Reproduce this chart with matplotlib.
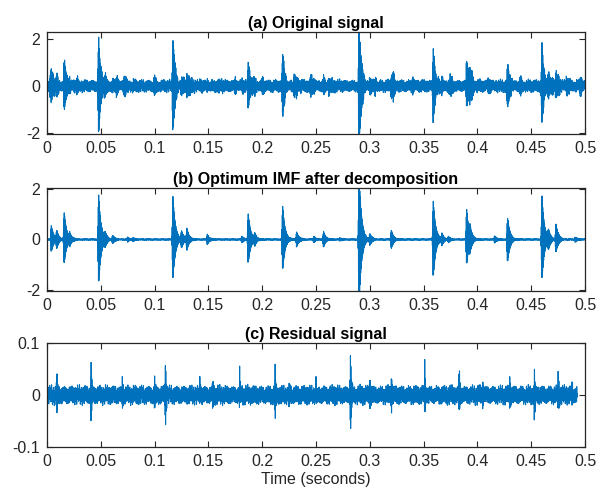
import matplotlib
matplotlib.use('Agg')
import matplotlib.pyplot as plt
import numpy as np

plt.rcParams['font.family'] = ['Liberation Sans', 'DejaVu Sans']

# sampling of the record
fs = 24000
t_end = 0.5
t_end_res = 0.4926

# impulses: time (s), positive peak, negative peak
imf_times = [0.004, 0.009, 0.016, 0.021, 0.048, 0.054, 0.061, 0.075, 0.080,
             0.117, 0.125, 0.130, 0.149, 0.181, 0.187, 0.193, 0.219, 0.232,
             0.248, 0.257, 0.272, 0.290, 0.300, 0.320, 0.359, 0.367, 0.373,
             0.390, 0.393, 0.416, 0.428, 0.460, 0.466, 0.473, 0.491]
imf_pos = [0.55, 0.30, 1.05, 0.20, 1.75, 0.20, 0.15, 0.10, 0.06,
           1.70, 0.30, 0.40, 0.20, 0.12, 1.00, 0.20, 1.30, 0.30,
           0.12, 0.30, 0.06, 2.60, 0.20, 0.35, 1.50, 0.20, 0.10,
           1.20, 0.30, 0.15, 0.85, 1.70, 0.30, 0.60, 0.10]
imf_neg = [0.50, 0.30, 0.95, 0.20, 1.75, 0.20, 0.15, 0.10, 0.06,
           1.60, 0.30, 0.40, 0.20, 0.12, 0.95, 0.20, 1.20, 0.30,
           0.12, 0.30, 0.06, 2.60, 0.20, 0.35, 1.50, 0.20, 0.10,
           1.00, 0.30, 0.15, 0.90, 1.60, 0.30, 0.50, 0.10]

# extra bumps of the background in panel (a)
orig_times = [0.003, 0.028, 0.048, 0.065, 0.072, 0.100, 0.117, 0.132, 0.142,
              0.160, 0.175, 0.200, 0.230, 0.245, 0.262, 0.305, 0.322, 0.340,
              0.375, 0.395, 0.410, 0.440, 0.470, 0.483, 0.496]
orig_amp = [0.45, 0.25, 0.30, 0.30, 0.35, 0.30, 0.30, 0.30, 0.25,
            0.30, 0.25, 0.25, 0.40, 0.35, 0.30, 0.35, 0.40, 0.25,
            0.30, 0.30, 0.25, 0.30, 0.30, 0.35, 0.30]

# spikes of the residual in panel (c)
res_times = [0.009, 0.041, 0.070, 0.100, 0.110, 0.142, 0.154, 0.179, 0.212,
             0.225, 0.250, 0.282, 0.300, 0.320, 0.351, 0.383, 0.405, 0.430,
             0.453, 0.475, 0.488]
res_pos = [0.040, 0.065, 0.025, 0.025, 0.055, 0.032, 0.030, 0.052, 0.052,
           0.030, 0.028, 0.080, 0.030, 0.030, 0.065, 0.050, 0.028, 0.025,
           0.052, 0.030, 0.028]
res_neg = [0.032, 0.057, 0.022, 0.022, 0.062, 0.025, 0.025, 0.030, 0.045,
           0.025, 0.022, 0.075, 0.022, 0.025, 0.040, 0.030, 0.022, 0.022,
           0.060, 0.025, 0.022]

floor_orig = 0.28
floor_imf = 0.03
floor_res = 0.019


def bursts(t, times, pos, neg, f, rise, decay):
    y = np.zeros_like(t)
    for t0, ap, an in zip(times, pos, neg):
        dt = t - t0
        env = np.where(dt < 0, np.exp(-(dt / rise) ** 2), np.exp(-np.clip(dt, 0, None) / decay))
        s = np.cos(2 * np.pi * f * dt)
        y += env * s * np.where(s > 0, ap, an)
    return y


def background(t, level):
    s = (0.45 * np.sin(2 * np.pi * 1733 * t) + 0.30 * np.sin(2 * np.pi * 2891 * t + 1.0)
         + 0.20 * np.sin(2 * np.pi * 4471 * t + 2.0) + 0.12 * np.sin(2 * np.pi * 537 * t + 0.4)
         + 0.10 * np.sin(2 * np.pi * 3313 * t + 2.7))
    return level * s


t = np.arange(0, t_end, 1 / fs)
imf_part = bursts(t, imf_times, imf_pos, imf_neg, 3000, 0.0006, 0.0022)
imf = imf_part + background(t, floor_imf)
orig = (imf_part
        + bursts(t, orig_times, orig_amp, orig_amp, 3000, 0.0008, 0.0018)
        + background(t, floor_orig))

t_res = np.arange(0, t_end_res, 1 / fs)
res = bursts(t_res, res_times, res_pos, res_neg, 3000, 0.0003, 0.0007) + background(t_res, floor_res)

blue = '#0072BD'
axcol = '#262626'
fsz = 11.5

fig = plt.figure(figsize=(5.96, 4.96), dpi=100)
ax1 = fig.add_axes([0.0789, 0.7298, 0.9027, 0.2056])
ax2 = fig.add_axes([0.0789, 0.4133, 0.9027, 0.2077])
ax3 = fig.add_axes([0.0789, 0.0988, 0.9027, 0.2097])

panels = [
    (ax1, t, orig, '(a) Original signal', (-2.05, 2.3), [-2, 0, 2], ['-2', '0', '2']),
    (ax2, t, imf, '(b) Optimum IMF after decomposition', (-2.03, 2.03), [-2, 0, 2], ['-2', '0', '2']),
    (ax3, t_res, res, '(c) Residual signal', (-0.1, 0.1), [-0.1, 0, 0.1], ['-0.1', '0', '0.1']),
]

xt = np.arange(0, 0.51, 0.05)
xtl = ['0', '0.05', '0.1', '0.15', '0.2', '0.25', '0.3', '0.35', '0.4', '0.45', '0.5']

for ax, tt, yy, title, yl, yt, ytl in panels:
    ax.plot(tt, yy, color=blue, lw=0.8)
    ax.set_xlim(0, 0.5)
    ax.set_ylim(*yl)
    ax.set_xticks(xt)
    ax.set_xticklabels(xtl)
    ax.set_yticks(yt)
    ax.set_yticklabels(ytl)
    ax.set_title(title, fontsize=fsz, fontweight='bold', pad=3, color='black')
    ax.tick_params(direction='in', top=True, right=True, labelsize=fsz,
                   colors=axcol, length=4, width=0.8, pad=5)
    for sp in ax.spines.values():
        sp.set_color(axcol)
        sp.set_linewidth(0.9)

ax3.set_xlabel('Time (seconds)', fontsize=fsz, color=axcol, labelpad=2)

fig.savefig('out.png', dpi=100)
